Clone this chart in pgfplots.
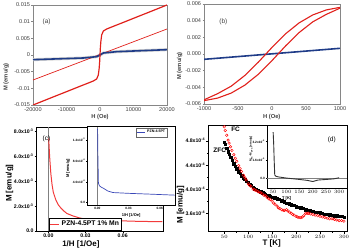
\documentclass[border=0pt]{standalone}
\usepackage{pgfplots}
\pgfplotsset{compat=1.18}
\usepackage{fontspec}
\setmainfont{Liberation Sans}
\newcommand{\sci}[2]{#1x10\textsuperscript{#2}}
\definecolor{exred}{HTML}{E0201B}
\definecolor{exblue}{HTML}{1F3C88}
\definecolor{extext}{HTML}{404040}
\definecolor{exframe}{HTML}{868686}
\definecolor{orred}{HTML}{F23B3B}
\definecolor{orblue}{HTML}{3A48B8}
\pgfplotsset{
  excel/.style={scale only axis, anchor=south west, scaled ticks=false,
    axis line style={exframe, line width=0.5bp},
    tick style={exframe, line width=0.4bp}, major tick length=1.5bp, tick align=outside,
    xtick pos=left, ytick pos=left,
    tick label style={font=\fontsize{5.6}{6.5}\selectfont, text=extext, inner sep=1.2bp},
    label style={font=\bfseries\fontsize{5.8}{6.8}\selectfont, text=extext},
    clip=true},
  origin/.style={scale only axis, anchor=south west, scaled ticks=false,
    axis line style={black, line width=0.6bp},
    tick style={black, line width=0.4bp}, major tick length=2bp, minor tick length=1.2bp, tick align=outside,
    xtick pos=left, ytick pos=left,
    tick label style={font=\bfseries\fontsize{5.2}{6}\selectfont, inner sep=1bp},
    label style={font=\bfseries\fontsize{8}{9}\selectfont}},
  inset/.style={scale only axis, anchor=south west, scaled ticks=false,
    axis background/.style={fill=white},
    axis line style={black, line width=0.4bp},
    tick style={black, line width=0.3bp}, major tick length=1.2bp, tick align=outside,
    xtick pos=left, ytick pos=left,
    tick label style={font=\bfseries\fontsize{3.2}{3.7}\selectfont, inner sep=0.8bp},
    label style={font=\bfseries\fontsize{4}{4.6}\selectfont, inner sep=0.5bp}},
}
\begin{document}
\begin{tikzpicture}
% ---------------- (a)
\begin{axis}[excel, at={(33bp,146bp)}, width=134bp, height=100bp,
  xmin=-20000, xmax=20000, ymin=-0.015, ymax=0.015,
  xtick={-20000,-10000,0,10000,20000}, xticklabels={-20000,-10000,0,10000,20000},
  ytick={-0.015,-0.01,-0.005,0,0.005,0.01,0.015},
  yticklabels={-0.015,-0.01,-0.005,0,0.005,0.01,0.015},
  xlabel={H (Oe)}, ylabel={M (emu/g)},
  xlabel style={at={(axis description cs:0.5,-0.12)}, anchor=center},
  ylabel style={at={(axis description cs:-0.2,0.28)}, anchor=center}]
\addplot[gray!35, line width=3bp] coordinates {(-20000,-0.0014) (-5000,-0.0009) (-1000,-0.0005) (0,0) (1000,0.0006) (5000,0.001) (20000,0.0016)};
\addplot[exred, line width=0.7bp] coordinates {(-20000,-0.0075) (20000,0.0078)};
\addplot[exblue, line width=1.6bp] coordinates {(-20000,-0.0014) (-5000,-0.0009) (-1000,-0.0005) (0,0) (1000,0.0006) (5000,0.001) (20000,0.0016)};
\addplot[exred, line width=1.2bp] coordinates {(-20000,-0.015) (-10000,-0.011) (-5000,-0.009) (-2000,-0.0078) (-1000,-0.0072) (-500,-0.006) (-250,-0.004) (-100,-0.002) (0,0) (100,0.002) (250,0.004) (500,0.006) (1000,0.0072) (2000,0.0078) (5000,0.009) (10000,0.011) (20000,0.015)};
\node[font=\fontsize{6.5}{7.5}\selectfont, text=extext] at (axis description cs:0.102,0.833) {(a)};
\end{axis}
% ---------------- (b)
\begin{axis}[excel, at={(204bp,147bp)}, width=136bp, height=100bp,
  xmin=-1000, xmax=1000, ymin=-0.006, ymax=0.006,
  xtick={-1000,-500,0,500,1000}, xticklabels={-1000,-500,0,500,1000},
  ytick={-0.006,-0.004,-0.002,0,0.002,0.004,0.006},
  yticklabels={-0.006,-0.004,-0.002,0.000,0.002,0.004,0.006},
  xlabel={H (Oe)}, ylabel={M (emu/g)},
  xlabel style={at={(axis description cs:0.498,-0.13)}, anchor=center},
  ylabel style={at={(axis description cs:-0.18,0.38)}, anchor=center}]
\addplot[exblue, line width=1.6bp] coordinates {(-1000,-0.00064) (1000,0.00068)};
\addplot[exred, line width=1.1bp] coordinates {(-1000,-0.0055) (-800,-0.00476) (-600,-0.00386) (-400,-0.00258) (-200,-0.00097) (0,0.00079) (200,0.00243) (400,0.00374) (600,0.00469) (800,0.00529) (1000,0.0056)};
\addplot[exred, line width=1.1bp] coordinates {(-1000,-0.0056) (-800,-0.00529) (-600,-0.00469) (-400,-0.00374) (-200,-0.00243) (0,-0.00079) (200,0.00097) (400,0.00258) (600,0.00386) (800,0.00476) (1000,0.0055)};
\node[font=\fontsize{6.5}{7.5}\selectfont, text=extext] at (axis description cs:0.142,0.823) {(b)};
\end{axis}
% ---------------- (c) main
\begin{axis}[origin, at={(36.7bp,20bp)}, width=126.3bp, height=104bp,
  xmin=-0.0094, xmax=0.0925, ymin=0, ymax=0.00832,
  xtick={0,0.03,0.06}, xticklabels={0.00,0.03,0.06},
  ytick={0,0.002,0.004,0.006,0.008},
  yticklabels={0.0,\sci{2.0}{-3},\sci{4.0}{-3},\sci{6.0}{-3},\sci{8.0}{-3}},
  xlabel={1/H [1/Oe]}, ylabel={M [emu/g]},
  xlabel style={at={(axis description cs:0.35,-0.125)}, anchor=center},
  ylabel style={at={(axis description cs:-0.215,0.46)}, anchor=center},
  legend style={at={(0.097,0.01)}, anchor=south west, draw=black, line width=0.4bp,
    font=\bfseries\fontsize{6.8}{7.5}\selectfont, inner sep=0.6bp, row sep=-1bp},
  legend image code/.code={\draw[#1] (0bp,0bp) -- (9bp,0bp);}]
\addplot[gray, line width=0.5bp, forget plot] coordinates {(0,0) (0,0.00832)};
\addplot[orred, line width=1bp] coordinates {(0.0003,0.0074) (0.001,0.006) (0.002,0.0046) (0.003,0.0037) (0.004,0.0031) (0.006,0.0025) (0.008,0.0021) (0.01,0.00185) (0.0125,0.0016) (0.015,0.0014) (0.02,0.0012) (0.025,0.00105) (0.03,0.00095) (0.04,0.00088) (0.05,0.00084) (0.06,0.00081) (0.07,0.00078) (0.08,0.00076) (0.092,0.00074)};
\addlegendentry{PZN-4.5PT 1\% Mn}
\node[font=\fontsize{6.5}{7.5}\selectfont, anchor=west] at (axis description cs:0.02,0.885) {(c)};
\end{axis}
% ---------------- (c) inset
\begin{axis}[inset, at={(87.3bp,46bp)}, width=87.7bp, height=78.3bp,
  xmin=-0.0097, xmax=0.0747, ymin=-0.00005, ymax=0.00146,
  xtick={0,0.03,0.06}, xticklabels={0.00,0.03,0.06},
  ytick={0,0.0004,0.0008,0.0012},
  yticklabels={0.0,\sci{4.0}{-4},\sci{8.0}{-4},\sci{1.2}{-3}},
  xlabel={1/H [1/Oe]}, ylabel={M [emu/g]},
  xlabel style={at={(axis description cs:0.5,-0.13)}, anchor=center},
  ylabel style={at={(axis description cs:-0.22,0.47)}, anchor=center},
  legend style={at={(0.555,0.985)}, anchor=north west, draw=black!60, line width=0.3bp,
    font=\bfseries\fontsize{3.6}{4}\selectfont, inner sep=0.4bp},
  legend image code/.code={\draw[#1] (0bp,0bp) -- (8bp,0bp);}]
\addplot[gray, line width=0.4bp, forget plot] coordinates {(0,-0.00005) (0,0.00146)};
\addplot[orblue, line width=0.7bp] coordinates {(0.0002,0.00142) (0.0005,0.0009) (0.001,0.00037) (0.002,0.00032) (0.004,0.00029) (0.006,0.00027) (0.01,0.00022) (0.015,0.00019) (0.03,0.000175) (0.05,0.00016) (0.0747,0.00014)};
\addlegendentry{PZN-4.5PT}
\end{axis}
% ---------------- (d) main
\begin{axis}[origin, at={(208.3bp,19.3bp)}, width=139bp, height=106.7bp,
  xmin=16.6, xmax=307, ymin=0.0003296, ymax=0.000506,
  xtick={50,100,150,200,250,300}, minor x tick num=1,
  ytick={0.00036,0.0004,0.00044,0.00048}, minor y tick num=1,
  yticklabels={\sci{3.6}{-4},\sci{4.0}{-4},\sci{4.4}{-4},\sci{4.8}{-4}},
  xlabel={T [K]}, ylabel={M [emu/g]},
  xlabel style={at={(axis description cs:0.456,-0.11)}, anchor=center},
  ylabel style={at={(axis description cs:-0.2,0.25)}, anchor=center}]
\addplot[black, only marks, mark=square*, mark size=1.2bp] table[y expr=\thisrowno{1}*1e-4] {
50 4.78
52 4.74
55 4.68
58 4.62
60 4.58
63 4.53
66 4.48
70 4.42
73 4.38
76 4.34
80 4.29
83 4.26
86 4.22
90 4.18
93 4.16
96 4.13
100 4.11
103 4.08
106 4.06
110 4.03
113 4.01
116 4.00
120 3.98
123 3.97
126 3.96
130 3.94
133 3.93
136 3.92
140 3.90
143 3.89
146 3.88
150 3.87
155 3.86
160 3.84
165 3.83
170 3.81
175 3.79
180 3.77
185 3.76
190 3.74
195 3.73
200 3.71
205 3.70
210 3.69
215 3.68
220 3.66
225 3.65
230 3.64
235 3.63
240 3.62
245 3.62
250 3.61
255 3.60
260 3.59
265 3.59
270 3.58
275 3.57
280 3.56
285 3.56
290 3.55
295 3.55
300 3.54
};
\addplot[red, only marks, mark=o, mark size=1.3bp, mark options={line width=0.45bp}] table[y expr=\thisrowno{1}*1e-4] {
50 5.03
52 4.97
55 4.89
58 4.81
60 4.76
63 4.70
66 4.64
70 4.57
73 4.51
76 4.46
80 4.39
83 4.34
86 4.29
90 4.23
93 4.19
96 4.15
100 4.09
103 4.06
106 4.04
110 4.00
113 3.99
116 3.98
120 3.96
123 3.95
126 3.94
130 3.92
133 3.90
136 3.89
140 3.86
143 3.84
146 3.83
150 3.80
153 3.77
156 3.75
160 3.72
163 3.69
166 3.68
170 3.66
173 3.65
176 3.65
180 3.66
183 3.64
186 3.62
190 3.60
193 3.58
196 3.57
200 3.55
203 3.54
206 3.53
210 3.53
213 3.54
216 3.56
220 3.60
223 3.60
226 3.60
230 3.59
235 3.58
240 3.57
245 3.56
250 3.55
255 3.54
260 3.53
265 3.52
270 3.51
275 3.51
280 3.50
285 3.49
290 3.48
295 3.48
300 3.47
};
\node[font=\bfseries\fontsize{6.5}{7.5}\selectfont, anchor=west] at (axis description cs:0.14,0.96) {FC};
\node[font=\bfseries\fontsize{6.5}{7.5}\selectfont, anchor=west] at (axis description cs:0.012,0.766) {ZFC};
\end{axis}
% ---------------- (d) inset
\begin{axis}[inset, at={(267bp,62.7bp)}, width=80.3bp, height=63.3bp,
  xmin=26.7, xmax=331, ymin=-0.00000865, ymax=0.0000461,
  xtick={50,100,150,200,250,300},
  ytick={0,0.000016,0.000032},
  yticklabels={0.0,\sci{1.6}{-5},\sci{3.2}{-5}},
  xlabel={T [K]}, ylabel={M\textsubscript{FC}-M\textsubscript{ZFC} [emu/g]},
  xlabel style={at={(axis description cs:0.245,-0.16)}, anchor=center},
  ylabel style={at={(axis description cs:-0.2,0.62)}, anchor=center, font=\bfseries\fontsize{3}{3.5}\selectfont}]
\addplot[gray, line width=0.4bp] coordinates {(26.7,0) (331,0)};
\addplot[black!80, line width=0.9bp] coordinates {(50,0.00004) (52,0.00003) (54,0.000015) (56,0.000003) (60,0.0000018) (70,0.0000012) (100,0.0000002) (150,-0.000001) (180,-0.0000018) (200,-0.0000028) (220,-0.0000015) (250,-0.000001) (280,-0.0000005) (300,0.0000005)};
\node[font=\fontsize{6.5}{7.5}\selectfont] at (axis description cs:0.806,0.763) {(d)};
\end{axis}
\pgfresetboundingbox
\useasboundingbox (0,0) rectangle (350bp,251bp);
\end{tikzpicture}
\end{document}
